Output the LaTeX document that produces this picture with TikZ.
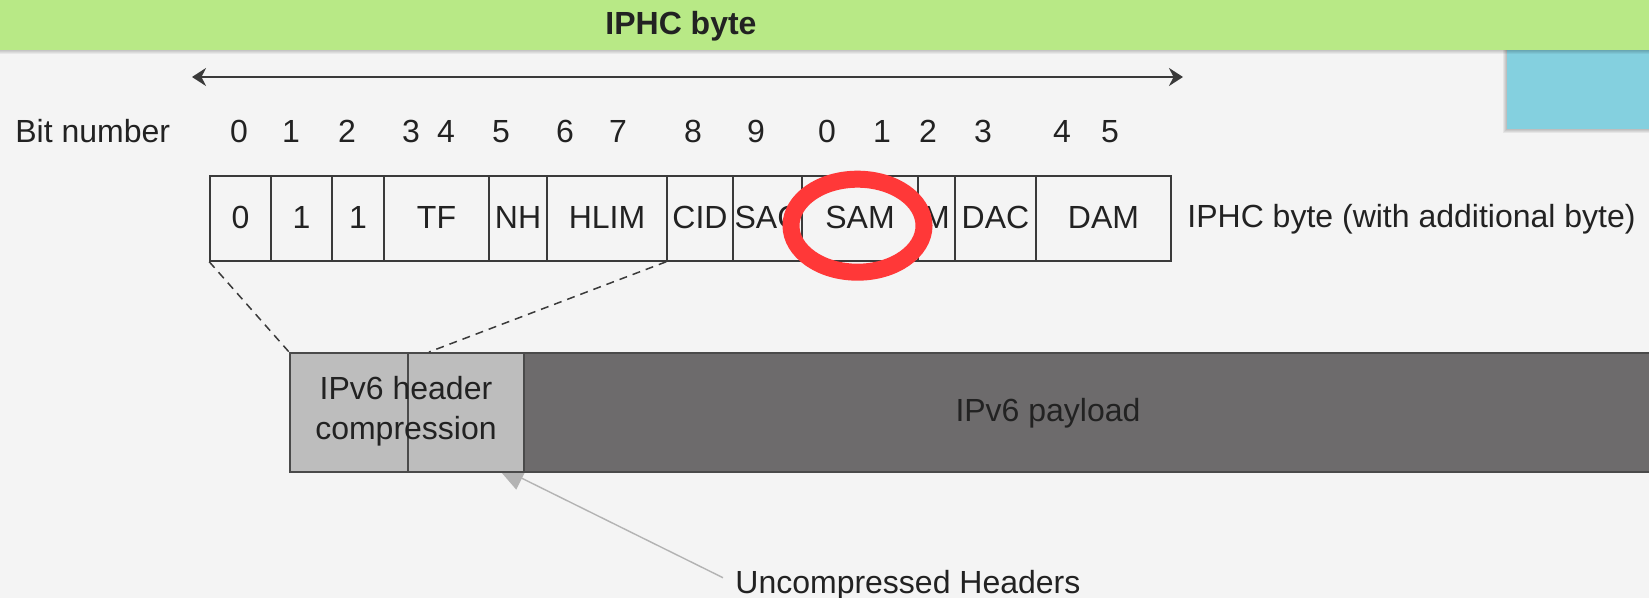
\documentclass[tikz,border=0pt]{standalone}
\usepackage{fontspec}
\setmainfont{Liberation Sans}
\usetikzlibrary{arrows.meta,shapes.geometric}

\definecolor{bg}{HTML}{F4F4F4}
\definecolor{banner}{HTML}{B8E986}
\definecolor{sidebox}{HTML}{84D0DF}
\definecolor{ink}{HTML}{222222}
\definecolor{frame}{HTML}{3A3A3A}
\definecolor{hdrgray}{HTML}{BDBDBD}
\definecolor{paygray}{HTML}{6D6B6C}
\definecolor{boxedge}{HTML}{4A4A4A}
\definecolor{pointer}{HTML}{B3B3B3}
\definecolor{hlred}{HTML}{FF3838}

\begin{document}
\begin{tikzpicture}[x=0.5pt,y=-0.5pt,
  font=\fontsize{16pt}{20pt}\selectfont, text=ink,
  cell/.style={draw=frame, line width=0.75pt, inner sep=0pt,
    minimum height=42.5pt, text height=11.5pt, text depth=1pt},
  bitlbl/.style={anchor=base, inner sep=0pt},
  plain/.style={anchor=base west, inner sep=0pt},
  segment/.style={draw=boxedge, line width=1pt, inner sep=0pt,
    minimum height=59.5pt, anchor=north west},
  zoomline/.style={frame, line width=0.75pt, dash pattern=on 4pt off 3pt},
  span/.style={frame, line width=1pt,
    {Stealth[length=7pt,width=9pt]}-{Stealth[length=7pt,width=9pt]}},
  callout/.style={pointer, line width=0.7pt,
    -{Triangle[length=15pt,width=12.5pt]}}]

\useasboundingbox (0,0) rectangle (1649,598);
\clip (0,0) rectangle (1649,598);
\fill[bg] (0,0) rectangle (1649,598);

% side panel with a soft shadow
\foreach \k in {1,...,4}
  \fill[black, opacity=0.06] (1507-\k,50) rectangle (1660,129+\k);
\fill[sidebox] (1507,50) rectangle (1660,129);

% title banner
\foreach \k in {1,...,4}
  \fill[black, opacity=0.05] (0,50) rectangle (1649,50+\k);
\fill[banner] (0,0) rectangle (1649,50);
\node[anchor=base, inner sep=0pt, font=\fontsize{16pt}{20pt}\selectfont\bfseries]
  (title) at (681,35) {IPHC byte};

% span of the IPHC field
\coordinate (spanL) at (192,77);
\coordinate (spanR) at (1183,77);
\draw[span] (spanL) -- (spanR);

% bit numbers
\node[plain] (bitcap) at (15,143) {Bit number};
\foreach \x/\d [count=\i] in {239/0,291/1,347/2,411/3,446/4,501/5,565/6,618/7,
                              693/8,756/9,827/0,882/1,928/2,983/3,1062/4,1110/5}
  \node[bitlbl] (bit\i) at (\x,143) {\d};

% IPHC fields
\foreach \l/\r/\t [count=\i from 0] in {210/271/0,271/332/1,332/384/1,384/489/TF,
    489/547/NH,547/667/HLIM,667/733/CID,733/802/SAC,802/918/SAM,918/955/M,
    955/1036/DAC,1036/1171/DAM}
  \node[cell, minimum width={(\r-\l)*0.5pt}] (f\i) at ({(\l+\r)/2},218.5) {\t};

\node[plain] (iphclbl) at (1187,228) {IPHC byte (with additional byte)};

% pointer to the uncompressed headers
\node[plain] (unc) at (735,593) {Uncompressed Headers};
\coordinate (uncTip) at (495,465);
\draw[callout] ([shift={(-12,-7)}]unc.west) -- (uncTip);

% packet layout
\node[segment, fill=hdrgray, minimum width=59pt] (hdrA) at (289,352) {};
\node[segment, fill=hdrgray, minimum width=58pt] (hdrB) at (407,352) {};
\node[segment, fill=paygray, minimum width=568.5pt] (payload) at (523,352) {};
\node[align=center, inner sep=0pt] (hdrtxt) at (406,411) {IPv6 header\\compression};
\node[inner sep=0pt] (paytxt) at (1048,413) {IPv6 payload};

% expansion of the compressed header
\coordinate (zoomR) at (429,352);
\draw[zoomline] (f0.south west) -- (hdrA.north west);
\draw[zoomline] (f6.south west) -- (zoomR);

% highlight ring
\node[draw=hlred, line width=8.5pt, ellipse, inner sep=0pt,
  minimum width=66.5pt, minimum height=46.5pt] (ring) at (857.5,225.7) {};

\end{tikzpicture}
\end{document}
